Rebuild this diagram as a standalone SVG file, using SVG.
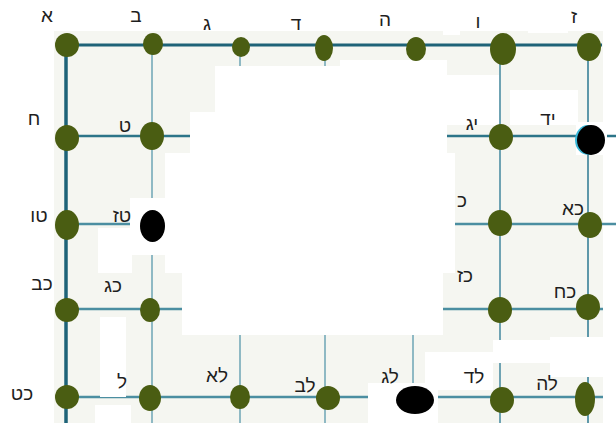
<svg xmlns="http://www.w3.org/2000/svg" width="616" height="423" viewBox="0 0 616 423">
<style>
.lbl{font-family:"Liberation Sans","DejaVu Sans",sans-serif;font-size:19px;fill:#1e1e1e;text-anchor:middle}
.dot{fill:#4a5d12}
.blk{fill:#000}
.wh{fill:#fff}
.h1{stroke:#1e6378;stroke-width:3}
.h2{stroke:#2c7589;stroke-width:2.5}
.h3{stroke:#4b8ea1;stroke-width:2.5}
.vl{stroke:#8fb9c4;stroke-width:2}
.vk{stroke:#1e6378;stroke-width:3.5}
</style>
<rect x="0" y="0" width="616" height="423" fill="#fff"/>
<rect x="54" y="31" width="549" height="392" fill="#f5f6f1"/>
<g id="connectors" fill="none">
<line class="vl" x1="152" y1="45" x2="152" y2="423"/>
<line class="vl" x1="240" y1="45" x2="240" y2="423"/>
<line class="vl" x1="325" y1="45" x2="325" y2="423"/>
<line class="vl" x1="413" y1="45" x2="413" y2="423"/>
<line class="vl" x1="500" y1="45" x2="500" y2="423" style="stroke:#6fa3b3"/>
<line class="vl" x1="588" y1="45" x2="588" y2="423" style="stroke:#5e98aa"/>
<line class="h1" x1="66" y1="45" x2="602" y2="45"/>
<line class="h2" x1="66" y1="136" x2="616" y2="136"/>
<line class="h3" x1="66" y1="224" x2="616" y2="224"/>
<line class="h3" x1="66" y1="309" x2="603" y2="309"/>
<line class="h3" x1="66" y1="397" x2="603" y2="397"/>
<line class="vk" x1="66" y1="45" x2="66" y2="423"/>
</g>
<g id="patches">
<rect class="wh" x="215" y="66" width="232" height="50"/>
<rect class="wh" x="340" y="60" width="107" height="10"/>
<rect class="wh" x="190" y="112" width="257" height="45"/>
<rect class="wh" x="447" y="75" width="52" height="50"/>
<rect class="wh" x="510" y="90" width="68" height="35"/>
<rect class="wh" x="165" y="153" width="290" height="120"/>
<rect class="wh" x="182" y="273" width="261" height="62"/>
<rect class="wh" x="130" y="198" width="35" height="57"/>
<rect class="wh" x="98" y="228" width="34" height="45"/>
<rect class="wh" x="100" y="317" width="26" height="80"/>
<rect class="wh" x="95" y="405" width="36" height="18"/>
<rect class="wh" x="368" y="383" width="70" height="40"/>
<rect class="wh" x="425" y="352" width="68" height="38"/>
<rect class="wh" x="493" y="340" width="123" height="23"/>
<rect class="wh" x="550" y="337" width="66" height="40"/>
<rect class="wh" x="576" y="122" width="31" height="33"/>
<rect class="wh" x="443" y="31" width="17" height="4"/>
<rect class="wh" x="528" y="28" width="40" height="5"/>
</g>
<g id="n1"><ellipse class="dot" cx="67" cy="45" rx="12" ry="12"/><text class="lbl" x="47" y="22">א</text></g>
<g id="n2"><ellipse class="dot" cx="153" cy="44" rx="10" ry="11"/><text class="lbl" x="136" y="22">ב</text></g>
<g id="n3"><ellipse class="dot" cx="241" cy="47" rx="9" ry="10"/><text class="lbl" x="207" y="30">ג</text></g>
<g id="n4"><ellipse class="dot" cx="324" cy="48" rx="9" ry="13"/><text class="lbl" x="296" y="30">ד</text></g>
<g id="n5"><ellipse class="dot" cx="416" cy="49" rx="10" ry="12"/><text class="lbl" x="385" y="26">ה</text></g>
<g id="n6"><ellipse class="dot" cx="503" cy="49" rx="13" ry="16"/><text class="lbl" x="478" y="28">ו</text></g>
<g id="n7"><ellipse class="dot" cx="589" cy="47" rx="12" ry="14"/><text class="lbl" x="574" y="23">ז</text></g>
<g id="n8"><ellipse class="dot" cx="67" cy="138" rx="12" ry="13"/><text class="lbl" x="34" y="125">ח</text></g>
<g id="n9"><ellipse class="dot" cx="152" cy="136" rx="12" ry="14"/><text class="lbl" x="125" y="132">ט</text></g>
<g id="n13"><ellipse class="dot" cx="501" cy="137" rx="12" ry="13"/><text class="lbl" x="472" y="130">יג</text></g>
<g id="n14"><ellipse cx="588" cy="140" rx="13" ry="15" fill="#3ab8d8"/><ellipse class="blk" cx="591" cy="140" rx="14" ry="15"/><text class="lbl" x="548" y="125">יד</text></g>
<g id="n15"><ellipse class="dot" cx="67" cy="225" rx="12" ry="15"/><text class="lbl" x="39" y="222">טו</text></g>
<g id="n16"><ellipse class="blk" cx="152.5" cy="226" rx="12.5" ry="16"/><text class="lbl" x="122" y="222">טז</text></g>
<g id="n20"><ellipse class="dot" cx="500" cy="223" rx="12" ry="13"/><text class="lbl" x="462" y="207">כ</text></g>
<g id="n21"><ellipse class="dot" cx="590" cy="225" rx="12" ry="13"/><text class="lbl" x="573" y="215">כא</text></g>
<g id="n22"><ellipse class="dot" cx="67" cy="310" rx="12" ry="12"/><text class="lbl" x="42" y="290">כב</text></g>
<g id="n23"><ellipse class="dot" cx="150" cy="310" rx="10" ry="12"/><text class="lbl" x="113" y="292">כג</text></g>
<g id="n27"><ellipse class="dot" cx="500" cy="310" rx="12" ry="13"/><text class="lbl" x="465" y="282">כז</text></g>
<g id="n28"><ellipse class="dot" cx="588" cy="307" rx="12" ry="13"/><text class="lbl" x="565" y="298">כח</text></g>
<g id="n29"><ellipse class="dot" cx="67" cy="397" rx="12" ry="12"/><text class="lbl" x="22" y="400">כט</text></g>
<g id="n30"><ellipse class="dot" cx="150" cy="398" rx="11" ry="13"/><text class="lbl" x="122" y="388">ל</text></g>
<g id="n31"><ellipse class="dot" cx="240" cy="397" rx="10" ry="12"/><text class="lbl" x="217" y="382">לא</text></g>
<g id="n32"><ellipse class="dot" cx="328" cy="398" rx="12" ry="12"/><text class="lbl" x="305" y="392">לב</text></g>
<g id="n33"><ellipse class="blk" cx="415" cy="400" rx="19" ry="14"/><text class="lbl" x="390" y="383">לג</text></g>
<g id="n34"><ellipse class="dot" cx="502" cy="400" rx="12" ry="13"/><text class="lbl" x="474" y="383">לד</text></g>
<g id="n35"><ellipse class="dot" cx="585" cy="399" rx="10" ry="17"/><text class="lbl" x="547" y="390">לה</text></g>
</svg>
